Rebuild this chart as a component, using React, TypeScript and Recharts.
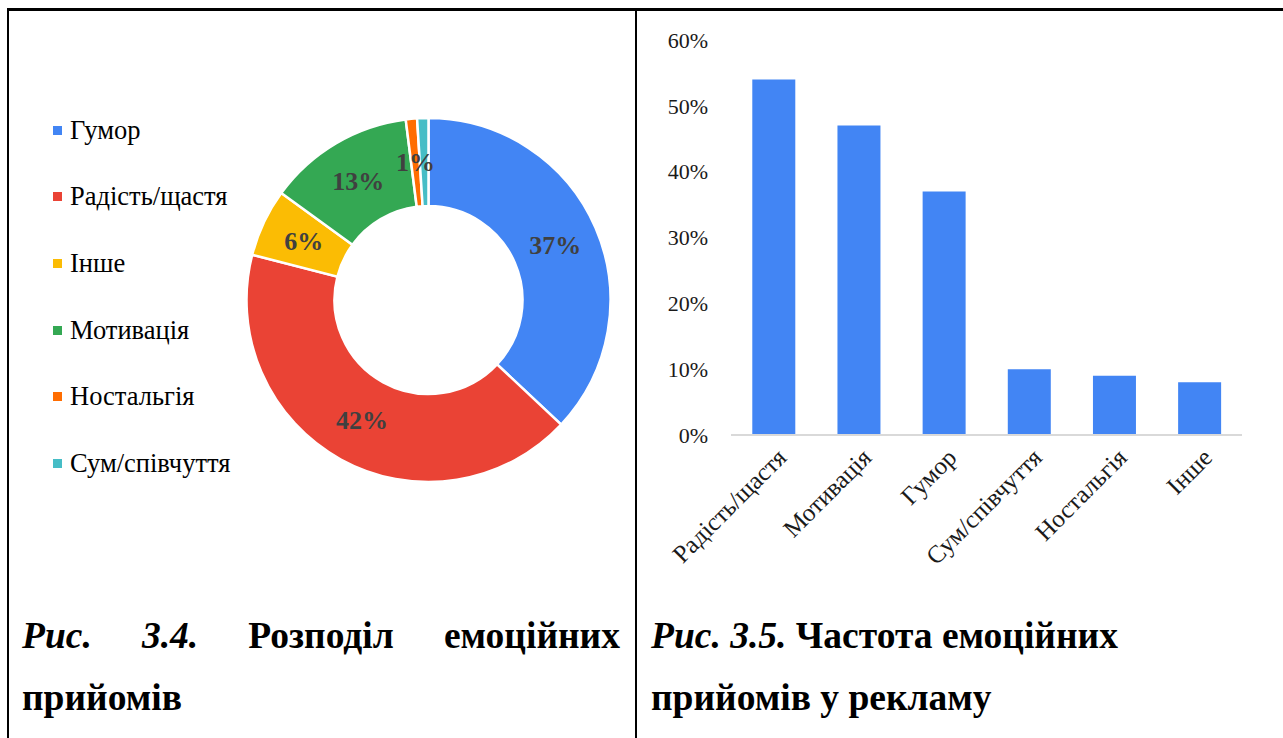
import React from 'react';
import { PieChart, Pie, Cell, Legend, BarChart, Bar, XAxis, YAxis } from 'recharts';

const pieCategories = ['Гумор', 'Радість/щастя', 'Інше', 'Мотивація', 'Ностальгія', 'Сум/співчуття'];
const pieValues = [37, 42, 6, 13, 1, 1];
const pieColors = ['#4285F4', '#EA4335', '#FBBC04', '#34A853', '#FF6D01', '#46BDC6'];

const barCategories = ['Радість/щастя', 'Мотивація', 'Гумор', 'Сум/співчуття', 'Ностальгія', 'Інше'];
const barValues = [54, 47, 37, 10, 9, 8];
const yTicks = [0, 10, 20, 30, 40, 50, 60];

const pieData = pieCategories.map((name, i) => ({ name, value: pieValues[i] }));
const barData = barCategories.map((name, i) => ({ name, value: barValues[i] }));

const SERIF = '"Liberation Serif", "Times New Roman", serif';
const RADIAN = Math.PI / 180;

const renderPieLabel = (props: any) => {
  const { cx, cy, midAngle, innerRadius, outerRadius, value, index } = props;
  if (index === 5) return null;
  const r = (innerRadius + outerRadius) / 2;
  const x = cx + r * Math.cos(-midAngle * RADIAN);
  const y = cy + r * Math.sin(-midAngle * RADIAN);
  return (
    <text x={x} y={y} textAnchor="middle" dominantBaseline="central" fontFamily={SERIF} fontWeight="bold" fontSize={26} fill="#404040">
      {`${value}%`}
    </text>
  );
};

const renderLegend = (props: any) => {
  const payload = [...(props.payload || [])].sort(
    (a: any, b: any) => pieCategories.indexOf(a.value) - pieCategories.indexOf(b.value)
  );
  return (
    <div>
      {payload.map((entry: any, i: number) => (
        <div key={i} style={{ height: 66.6, display: 'flex', alignItems: 'center' }}>
          <span style={{ display: 'inline-block', width: 9, height: 9, background: entry.color, marginRight: 8 }} />
          <span style={{ fontFamily: SERIF, fontSize: 26.5, color: '#000', whiteSpace: 'nowrap' }}>{entry.value}</span>
        </div>
      ))}
    </div>
  );
};

const XTick = (props: any) => {
  const { x, y, payload } = props;
  return (
    <g transform={`translate(${x + 8},${y + 10})`}>
      <text x={0} y={0} dy="0.35em" textAnchor="end" transform="rotate(-45)" fontFamily={SERIF} fontSize={25} fill="#1a1a1a">
        {payload.value}
      </text>
    </g>
  );
};

const captionStyle: React.CSSProperties = {
  position: 'absolute',
  fontFamily: SERIF,
  fontWeight: 'bold',
  fontSize: 37.5,
  lineHeight: '38px',
  color: '#000',
  whiteSpace: 'nowrap',
};

export default function App() {
  return (
    <div style={{ position: 'absolute', left: 0, top: 0, width: 1283, height: 738, background: '#fff', overflow: 'hidden' }}>
      <div style={{ position: 'absolute', left: 0, top: 0 }}>
        <PieChart width={636} height={600} margin={{ top: 0, right: 0, bottom: 0, left: 0 }}>
          <Pie
            data={pieData}
            dataKey="value"
            nameKey="name"
            cx={428.5}
            cy={300}
            innerRadius={94}
            outerRadius={182}
            startAngle={90}
            endAngle={-270}
            stroke="#fff"
            strokeWidth={2.5}
            label={renderPieLabel}
            labelLine={false}
            isAnimationActive={false}
          >
            {pieData.map((d, i) => (
              <Cell key={d.name} fill={pieColors[i]} />
            ))}
          </Pie>
          <Legend
            layout="vertical"
            align="center"
            verticalAlign="middle"
            content={renderLegend}
            wrapperStyle={{ left: 53, top: 97, width: 220 }}
          />
        </PieChart>
      </div>

      <div style={{ position: 'absolute', left: 636, top: 0 }}>
        <BarChart width={647} height={600} data={barData} margin={{ top: 40, right: 41, bottom: 15, left: 15 }} barCategoryGap="25%">
          <XAxis
            dataKey="name"
            axisLine={{ stroke: '#d9d9d9', strokeWidth: 2 }}
            tickLine={false}
            interval={0}
            height={150}
            tick={<XTick />}
          />
          <YAxis
            domain={[0, 60]}
            ticks={yTicks}
            tickFormatter={(v: number) => `${v}%`}
            axisLine={false}
            tickLine={false}
            tickSize={0}
            tickMargin={23}
            width={80}
            tick={{ fontFamily: SERIF, fontSize: 22, fill: '#1a1a1a' }}
          />
          <Bar dataKey="value" fill="#4285F4" isAnimationActive={false} />
        </BarChart>
      </div>

      <div style={{ ...captionStyle, left: 22, top: 617, width: 598, display: 'flex', justifyContent: 'space-between' }}>
        <i>Рис.</i>
        <i>3.4.</i>
        <span>Розподіл</span>
        <span>емоційних</span>
      </div>
      <div style={{ ...captionStyle, left: 22, top: 679 }}>прийомів</div>
      <div style={{ ...captionStyle, left: 651, top: 617 }}>
        <i>Рис.</i> <i>3.5.</i> Частота емоційних
      </div>
      <div style={{ ...captionStyle, left: 651, top: 679 }}>прийомів у рекламу</div>

      <div style={{ position: 'absolute', left: 7, top: 8, width: 1276, height: 3, background: '#000' }} />
      <div style={{ position: 'absolute', left: 7, top: 8, width: 2, height: 730, background: '#000' }} />
      <div style={{ position: 'absolute', left: 635, top: 8, width: 2, height: 730, background: '#000' }} />
    </div>
  );
}
